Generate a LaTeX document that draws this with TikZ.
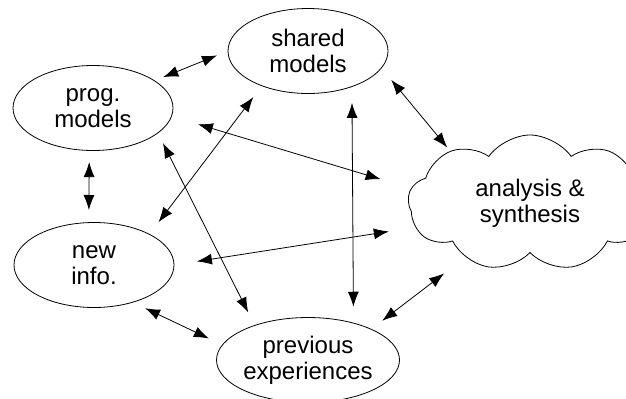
\documentclass[tikz,border=0pt]{standalone}
\usepackage{fontspec}
\setmainfont{Liberation Sans}
\usetikzlibrary{arrows.meta}
\usetikzlibrary{shapes.geometric}
\usetikzlibrary{shapes.symbols}
\tikzset{bubble/.style = {draw, ellipse, inner sep = 0, outer sep = 0,
                          minimum width = 80pt, minimum height = 42.5pt,
                          align = center, font = \fontsize{12}{13}\selectfont}}
\tikzset{puffy/.style = {draw, cloud, cloud puffs = 9, cloud puff arc = 110,
                         aspect = 1.8, inner sep = 0, outer sep = 0,
                         minimum width = 122pt, minimum height = 68pt,
                         align = center, font = \fontsize{12}{13}\selectfont}}
\tikzset{link/.style = {<->, >={Latex[length=7.5pt, width=5.5pt]}}}

\begin{document}
\begin{tikzpicture}[x=0.5pt, y=0.5pt]
  \useasboundingbox (0, 0) rectangle (626, 398);

  \node [bubble] (prog) at (93, 290) {prog.\\models};
  \node [bubble] (shared) at (308, 347) {shared\\models};
  \node [bubble] (new) at (94, 133) {new\\info.};
  \node [bubble] (prev) at (308, 38) {previous\\experiences};
  \node [puffy] (cloud) at (530, 195) {analysis \&\\synthesis};

  \draw [link, shorten <= 4.8pt, shorten >= 5.9pt] (prog.24) -- (shared.180);
  \draw [link, shorten <= 5.8pt, shorten >= 6.3pt] (prog.265) -- (new.97);
  \draw [link, shorten <= 7.6pt, shorten >= 7.1pt] (new.29) -- (shared.217);
  \draw [link, shorten <= 5.7pt, shorten >= 7.3pt] (prog.339) -- (prev.147);
  \draw [link, shorten <= 13.8pt, shorten >= 16pt] (prog.354) -- (cloud.173);
  \draw [link, shorten <= 11.6pt, shorten >= 13.5pt] (new.0) -- (cloud.192);
  \draw [link, shorten <= 6.9pt, shorten >= 7.5pt] (new.316) -- (prev.170);
  \draw [link, shorten <= 8.2pt, shorten >= 8.2pt] (shared.321) -- (prev.39);
  \draw [link, shorten <= 7.7pt, shorten >= 2.5pt] (shared.347) -- (cloud.147);
  \draw [link, shorten <= 7pt, shorten >= 13.5pt] (prev.26) -- (cloud.220);
\end{tikzpicture}
\end{document}
